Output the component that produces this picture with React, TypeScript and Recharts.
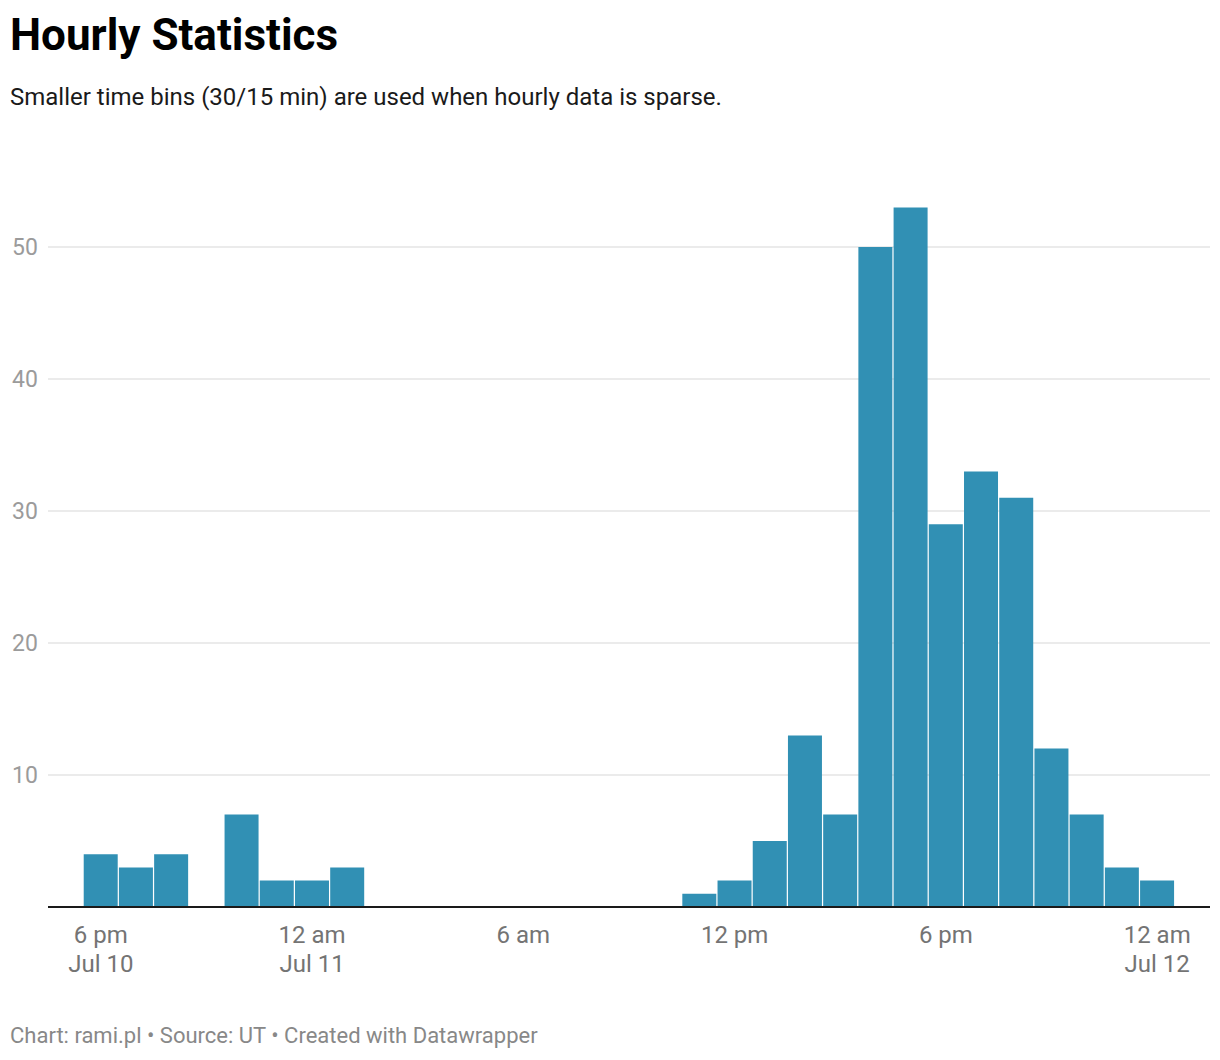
import React from "react";
import { BarChart, Bar, XAxis, YAxis, CartesianGrid } from "recharts";

// one bin per hour, from 5 pm Jul 10 to 1 am Jul 12
const hours = [
  "Jul 10 17:00", "Jul 10 18:00", "Jul 10 19:00", "Jul 10 20:00", "Jul 10 21:00",
  "Jul 10 22:00", "Jul 10 23:00", "Jul 11 00:00", "Jul 11 01:00", "Jul 11 02:00",
  "Jul 11 03:00", "Jul 11 04:00", "Jul 11 05:00", "Jul 11 06:00", "Jul 11 07:00",
  "Jul 11 08:00", "Jul 11 09:00", "Jul 11 10:00", "Jul 11 11:00", "Jul 11 12:00",
  "Jul 11 13:00", "Jul 11 14:00", "Jul 11 15:00", "Jul 11 16:00", "Jul 11 17:00",
  "Jul 11 18:00", "Jul 11 19:00", "Jul 11 20:00", "Jul 11 21:00", "Jul 11 22:00",
  "Jul 11 23:00", "Jul 12 00:00", "Jul 12 01:00",
];

const counts = [
  0, 4, 3, 4, 0,
  7, 2, 2, 3, 0,
  0, 0, 0, 0, 0,
  0, 0, 0, 1, 2,
  5, 13, 7, 50, 53,
  29, 33, 31, 12, 7,
  3, 2, 0,
];

const tickHours = ["Jul 10 18:00", "Jul 11 00:00", "Jul 11 06:00", "Jul 11 12:00", "Jul 11 18:00", "Jul 12 00:00"];
const tickTimes = ["6 pm", "12 am", "6 am", "12 pm", "6 pm", "12 am"];
const tickDates = ["Jul 10", "Jul 11", "", "", "", "Jul 12"];

const yTicks = [0, 10, 20, 30, 40, 50];

const data = hours.map((hour, i) => ({ hour, count: counts[i] }));

const FONT = "Roboto, 'Noto Sans', sans-serif";

const XTick = (props: any) => {
  const { x, y, payload } = props;
  const idx = tickHours.indexOf(payload.value);
  if (idx < 0) return <g />;
  return (
    <g>
      <text x={x} y={y + 28} textAnchor="middle" fill="#747474" fontSize={24} fontFamily={FONT}>
        {tickTimes[idx]}
      </text>
      {tickDates[idx] && (
        <text x={x} y={y + 57} textAnchor="middle" fill="#747474" fontSize={24} fontFamily={FONT}>
          {tickDates[idx]}
        </text>
      )}
    </g>
  );
};

const YTick = (props: any) => {
  const { y, payload } = props;
  if (payload.value === 0) return <g />;
  return (
    <text x={12} y={y} dy="0.35em" textAnchor="start" fill="#9b9b9b" fontSize={23} fontFamily={FONT}>
      {payload.value}
    </text>
  );
};

const App: React.FC = () => {
  return (
    <div
      style={{
        position: "absolute",
        top: 0,
        left: 0,
        width: 1220,
        height: 1060,
        background: "#fff",
        fontFamily: FONT,
      }}
    >
      <div
        style={{
          position: "absolute",
          left: 10,
          top: 13,
          fontSize: 44,
          fontWeight: 700,
          lineHeight: 1,
          color: "#000",
          whiteSpace: "nowrap",
        }}
      >
        Hourly Statistics
      </div>
      <div
        style={{
          position: "absolute",
          left: 10,
          top: 85,
          fontSize: 24,
          lineHeight: 1,
          color: "#1a1a1a",
          whiteSpace: "nowrap",
        }}
      >
        Smaller time bins (30/15 min) are used when hourly data is sparse.
      </div>

      <div style={{ position: "absolute", top: 0, left: 0 }}>
        <BarChart
          width={1220}
          height={1060}
          data={data}
          margin={{ top: 181, right: 10, left: 0, bottom: 93 }}
          barCategoryGap={0.5}
        >
          <CartesianGrid
            vertical={false}
            stroke="#e5e5e5"
            strokeWidth={1.5}
            horizontalValues={[10, 20, 30, 40, 50]}
          />
          <XAxis
            dataKey="hour"
            interval={0}
            tickLine={false}
            axisLine={{ stroke: "#1a1a1a", strokeWidth: 2 }}
            tick={<XTick />}
            height={60}
          />
          <YAxis
            width={48}
            domain={[0, 55]}
            ticks={yTicks}
            axisLine={false}
            tickLine={false}
            tick={<YTick />}
          />
          <Bar dataKey="count" fill="#3190b4" isAnimationActive={false} />
        </BarChart>
      </div>

      <div
        style={{
          position: "absolute",
          left: 10,
          top: 1025,
          fontSize: 22,
          lineHeight: 1,
          color: "#888",
          whiteSpace: "nowrap",
        }}
      >
        Chart: rami.pl • Source: UT • Created with Datawrapper
      </div>
    </div>
  );
};

export default App;
